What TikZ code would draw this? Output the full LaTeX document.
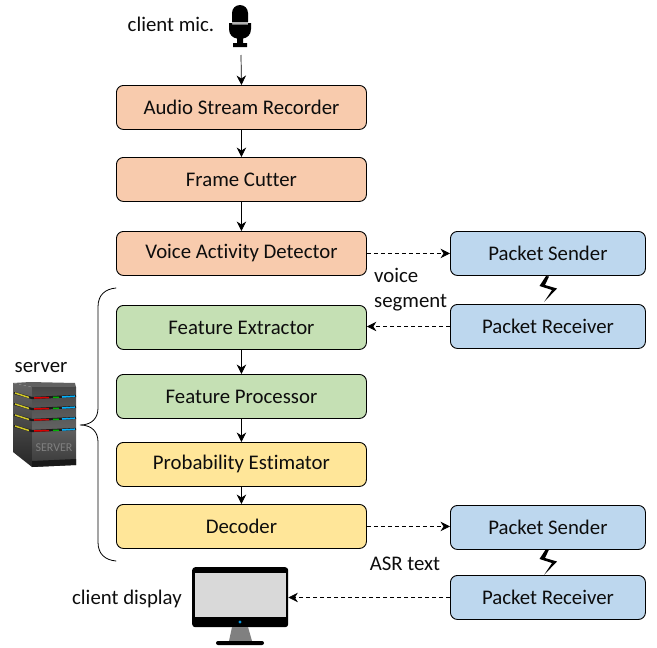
\documentclass[tikz,border=0pt]{standalone}
\usepackage{fontspec}
\setmainfont{Carlito}[Ligatures=CommonOff]
\usetikzlibrary{arrows.meta,calc}
\definecolor{orangefill}{HTML}{F8CBAD}
\definecolor{greenfill}{HTML}{C5E0B4}
\definecolor{yellowfill}{HTML}{FFE699}
\definecolor{bluefill}{HTML}{BDD7EE}
\tikzset{
 blockbox/.style={draw=black,line width=0.9pt,rounded corners=7pt,anchor=north west,inner sep=0pt,font=\fontsize{20.8}{22}\selectfont,text=black!95},
 leftbox/.style={blockbox,minimum width=250pt,minimum height=44pt},
 rightbox/.style={blockbox,fill=bluefill,minimum width=195pt,minimum height=44pt},
 lab/.style={font=\fontsize{20.8}{22}\selectfont,text=black!95,inner sep=0pt},
 flow/.style={-{Stealth[length=9.5pt,width=9.5pt]},line width=0.7pt},
 dflow/.style={flow,dash pattern=on 4pt off 3pt},
 brace/.style={line width=0.8pt,draw=black,line cap=round}
}
\begin{document}
\begin{tikzpicture}[x=1pt,y=-1pt]
\useasboundingbox (0,0) rectangle (657,648);
% boxes
\node[leftbox,fill=orangefill] (rec) at (116,85) {Audio Stream Recorder};
\node[leftbox,fill=orangefill] (cut) at (116,157) {Frame Cutter};
\node[leftbox,fill=orangefill] (vad) at (116,231) {Voice Activity Detector};
\node[leftbox,fill=greenfill] (ext) at (116,305) {Feature Extractor};
\node[leftbox,fill=greenfill] (proc) at (116,374) {Feature Processor};
\node[leftbox,fill=yellowfill] (prob) at (116,442) {Probability Estimator};
\node[leftbox,fill=yellowfill] (dec) at (116,504) {Decoder};
\node[rightbox] (s1) at (450,231) {Packet Sender};
\node[rightbox] (r1) at (450,304) {Packet Receiver};
\node[rightbox] (s2) at (450,505) {Packet Sender};
\node[rightbox] (r2) at (450,575) {Packet Receiver};
% labels
\node[lab] (micl) at (171,24) {client mic.};
\node[lab] (displ) at (127,599) {client display};
\node[lab] (servl) at (41,368) {server};
\node[lab,anchor=west] (voice) at (374,275) {voice};
\node[lab,anchor=west] (segm) at (374,303) {segment};
\node[lab] (asr) at (405,564) {ASR text};
% microphone
\fill[black] (232,13) arc[start angle=180,end angle=360,radius=8] -- (248,22) -- (232,22) -- cycle;
\fill[black!30] (232,22) rectangle (248,24.5);
\fill[black] (229,23) -- (232,23) -- (232,24.5) -- (248,24.5) -- (248,23) -- (251,23) -- (251,29) .. controls (251,35) and (247,38) .. (243,38.5) -- (243,43) -- (247,43) -- (247,47) -- (233,47) -- (233,43) -- (237,43) -- (237,38.5) .. controls (233,38) and (229,35) .. (229,29) -- cycle;
\coordinate (micb) at (241,55);
% monitor
\node[draw=none,fill=black,rounded corners=3pt,minimum width=96pt,minimum height=60pt,inner sep=0pt,anchor=north west] (mon) at (192,567) {};
\fill[black!15] (195,573) rectangle (286,617);
\fill[cyan!80!blue] (240,622) circle (1.6);
\fill[black!50] (232,627) -- (248,627) -- (252,641) -- (229,641) -- cycle;
\fill[black,rounded corners=2pt] (216,641) rectangle (264,645);
% server
\shade[top color=black!60,bottom color=black!85] (13,383) -- (32,387) -- (32,467) -- (13,452) -- cycle;
\fill[black!62] (13,383) -- (30,382) -- (75,383) -- (76,387) -- (32,387) -- cycle;
\shade[top color=black!72,bottom color=black!78,middle color=black!62] (32,387) -- (76,387) -- (76,465) -- (32,467) -- cycle;
\fill[black!90] (32,461) -- (76,459) -- (76,465) -- (32,467) -- cycle;
\foreach \y in {0,11,22,33}{
 \draw[line width=2.2pt,black!90] (14,{393+\y}) -- (32,{398+\y}) -- (76,{396+\y});
 \draw[line width=1.5pt,yellow!80!black] (15,{393+\y}) -- (29,{397.5+\y});
 \draw[line width=1.5pt,red!85!black] (34,{398+\y}) -- (49,{397.5+\y});
 \draw[line width=1.5pt,green!70!black] (53,{397.5+\y}) -- (59,{397.3+\y});
 \draw[line width=1.5pt,blue!30!cyan] (62,{397+\y}) -- (75,{396.2+\y});
}
\node[font=\fontsize{12}{12}\selectfont,text=black!50,inner sep=0pt] (servtxt) at (54,448) {SERVER};
% lightning bolts
\fill[black] (546,276) -- (539.5,286) -- (552,290) -- (544,302) -- (557,288.5) -- (545,285) -- (549,276.5) -- cycle;
\fill[black] (546,549) -- (539.5,559) -- (552,563) -- (544,575) -- (557,561.5) -- (545,558) -- (549,549.5) -- cycle;
% brace
\coordinate (brt) at (116,288);
\coordinate (brb) at (116,561);
\coordinate (brm) at (80,425);
\draw[brace] (brt) .. controls (105,289) and (98,295) .. (98,307) -- (98,408) .. controls (98,418) and (92,425) .. (brm) .. controls (92,425) and (98,432) .. (98,442) -- (98,542) .. controls (98,554) and (105,560) .. (brb);
% flows
\draw[flow] (micb) -- (rec.north);
\draw[flow] (rec) -- (cut);
\draw[flow] (cut) -- (vad);
\draw[flow] (ext) -- (proc);
\draw[flow] (proc) -- (prob);
\draw[flow] (prob) -- (dec);
\draw[dflow] (vad.east) -- (vad.east -| s1.west);
\draw[dflow] (r1.west) -- (r1.west -| ext.east);
\draw[dflow] (dec.east) -- (dec.east -| s2.west);
\draw[dflow] (r2.west) -- (r2.west -| mon.east);
\end{tikzpicture}
\end{document}
